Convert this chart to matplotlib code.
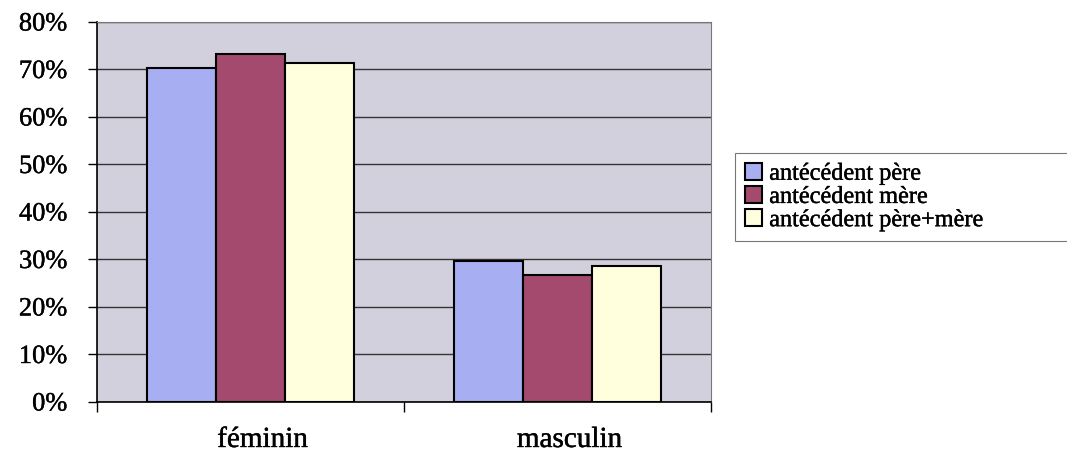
import numpy as np
import matplotlib
matplotlib.use("Agg")
import matplotlib.pyplot as plt
import matplotlib.patheffects as pe
from matplotlib.transforms import ScaledTranslation

categories = ["féminin", "masculin"]
series = ["antécédent père", "antécédent mère", "antécédent père+mère"]
pere = [70.3, 29.7]
mere = [73.3, 26.7]
pere_mere = [71.4, 28.6]
yticks = [0, 10, 20, 30, 40, 50, 60, 70, 80]

colors = ["#a8aef2", "#a34a6e", "#ffffde"]

plt.rcParams['font.family'] = ['Liberation Serif', 'DejaVu Serif']

fig = plt.figure(figsize=(10.67, 4.58), dpi=100)
ax = fig.add_axes([0.0909, 0.1223, 0.6664 - 0.0909, 0.952 - 0.1223])
ax.set_facecolor("#d3d0dd")

x = np.arange(len(categories))
w = 0.224
for i, (vals, c, lab) in enumerate(zip([pere, mere, pere_mere], colors, series)):
    ax.bar(x + (i - 1) * w, vals, width=w, color=c, edgecolor="black",
           linewidth=1.5, label=lab, zorder=3)

ax.set_xlim(-0.5, 1.5)
ax.set_ylim(0, 80)
ax.set_yticks(yticks)
ax.set_yticklabels([f"{v}%" for v in yticks], fontsize=19)
ax.yaxis.grid(True, color="#333333", linewidth=1.0, zorder=0)
ax.set_axisbelow(True)

# x ticks at category boundaries, labels at centers
ax.set_xticks([-0.5, 0.5, 1.5])
ax.set_xticklabels([])
ax.set_xticks(x, minor=True)
ax.set_xticklabels(categories, minor=True, fontsize=21)
ax.tick_params(axis="x", which="minor", length=0, pad=18)
ax.tick_params(axis="x", which="major", length=7, width=1, direction="out")
ax.tick_params(axis="y", length=6.5, width=1, direction="out", pad=15)
shift = ScaledTranslation(12 / 100, 0, fig.dpi_scale_trans)
for t in ax.get_xticklabels(minor=True):
    t.set_transform(t.get_transform() + shift)

for s in ["left", "bottom"]:
    ax.spines[s].set_color("black")
    ax.spines[s].set_linewidth(1.2)
for s in ["top", "right"]:
    ax.spines[s].set_color("#777777")
    ax.spines[s].set_linewidth(0.8)

leg = fig.legend(loc="upper left", bbox_to_anchor=(0.689, 0.666, 0.35, 0.0),
                 mode="expand", fontsize=17.5, frameon=True, fancybox=False,
                 edgecolor="#555555", handlelength=0.7, handleheight=0.7,
                 handletextpad=0.3, labelspacing=0.05, borderpad=0.4,
                 borderaxespad=0)
leg.get_frame().set_linewidth(0.8)

# scanned text looks a bit heavier than the plain regular face
thick = [pe.withStroke(linewidth=0.3, foreground="black")]
for t in (ax.get_yticklabels() + ax.get_xticklabels(minor=True)
          + leg.get_texts()):
    t.set_path_effects(thick)

fig.savefig("out.png", dpi=100)
